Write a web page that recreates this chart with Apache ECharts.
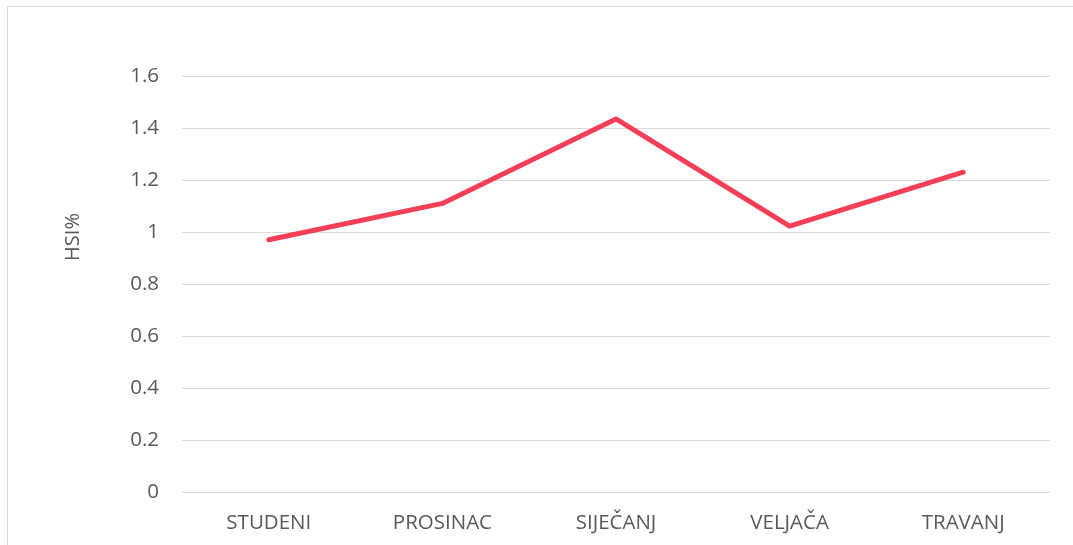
<!DOCTYPE html>
<html><head><meta charset="utf-8">
<script src="https://cdn.jsdelivr.net/npm/echarts@6/dist/echarts.min.js"></script>
<style>html,body{margin:0;padding:0;background:#fff}#c{width:1073px;height:545px}</style>
</head><body><div id="c"></div>
<script>
var categories = ['STUDENI', 'PROSINAC', 'SIJEČANJ', 'VELJAČA', 'TRAVANJ'];
var hsiValues = [0.97, 1.11, 1.435, 1.023, 1.23];
var yTicks = [0, 0.2, 0.4, 0.6, 0.8, 1, 1.2, 1.4, 1.6];

var chart = echarts.init(document.getElementById('c'), null, {renderer: 'canvas'});
chart.setOption({
  animation: false,
  backgroundColor: '#fff',
  grid: {left: 182, right: 23, top: 76, bottom: 53, containLabel: false},
  graphic: [
    {type: 'rect', shape: {x: 7.5, y: 6.5, width: 1100, height: 600},
     style: {fill: 'none', stroke: '#d9d9d9', lineWidth: 1}},
    {type: 'text', x: 73, y: 237, rotation: Math.PI / 2,
     style: {text: 'HSI%', font: '20px "Open Sans"', fill: '#595959', align: 'center', verticalAlign: 'middle'}}
  ],
  xAxis: {
    type: 'category', data: categories, boundaryGap: true,
    axisLine: {show: false}, axisTick: {show: false},
    axisLabel: {color: '#595959', fontSize: 20.5, fontFamily: 'Open Sans', margin: 21}
  },
  yAxis: {
    type: 'value', min: 0, max: 1.6, interval: 0.2,
    axisLine: {show: false}, axisTick: {show: false},
    splitLine: {lineStyle: {color: '#d9d9d9', width: 1}},
    axisLabel: {color: '#595959', fontSize: 20.5, fontFamily: 'Open Sans', margin: 23,
      formatter: function (v) { var t = yTicks.find(function (x) { return Math.abs(x - v) < 1e-6; }); return t === undefined ? '' : String(t); }}
  },
  series: [{
    type: 'line', data: hsiValues, symbol: 'none',
    lineStyle: {color: '#F43F56', width: 5, cap: 'round', join: 'round'}
  }]
});
</script></body></html>
